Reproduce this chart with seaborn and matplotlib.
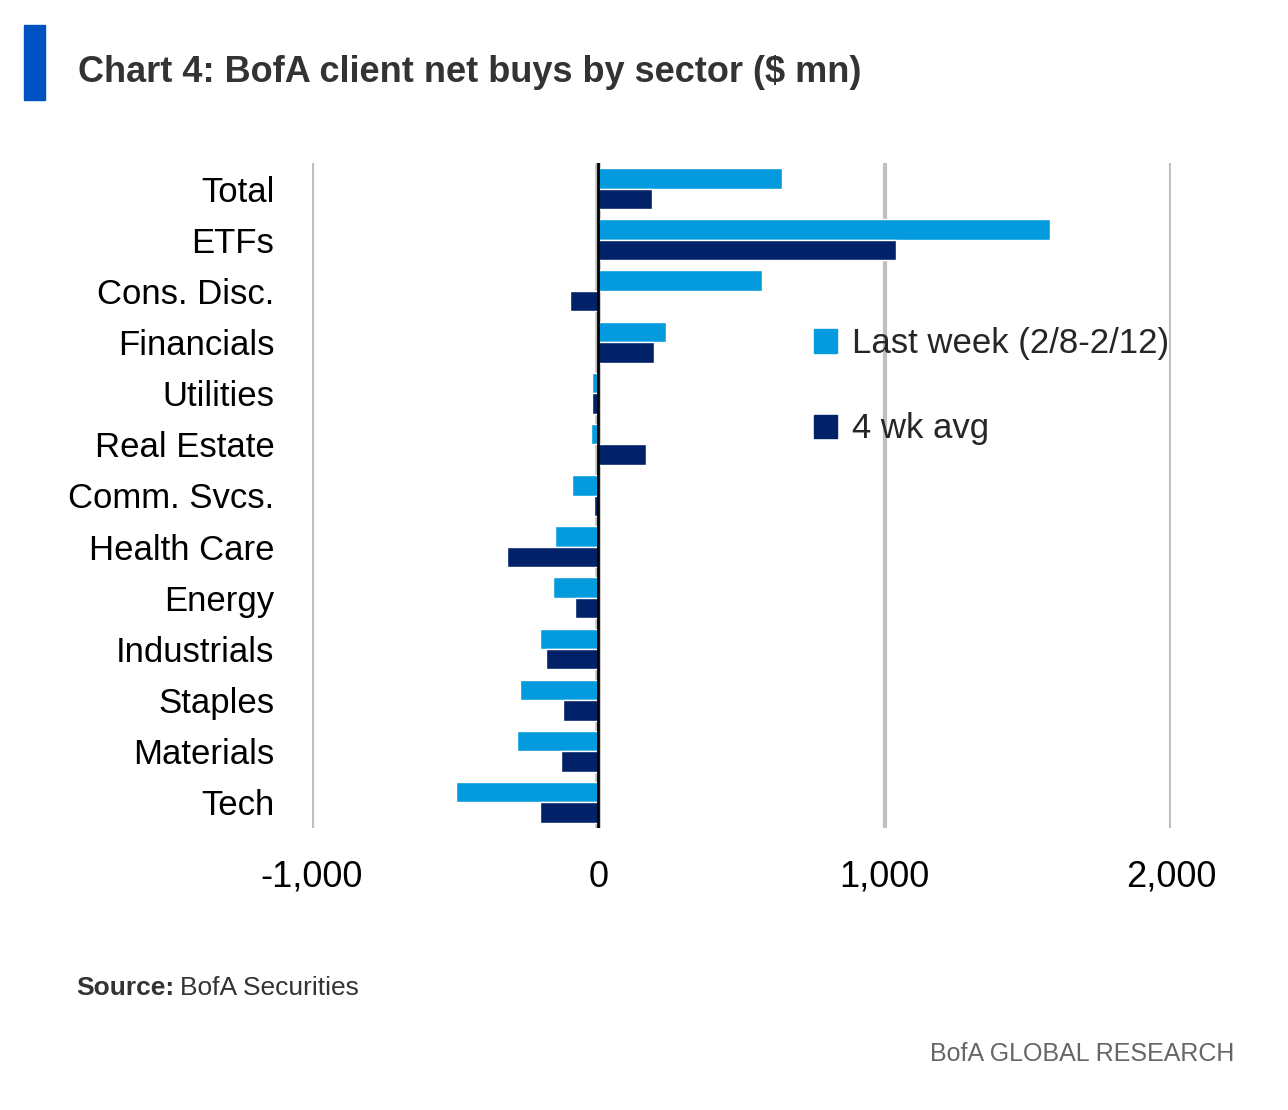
import matplotlib.pyplot as plt
import matplotlib.patches as mpatches
import pandas as pd
import seaborn as sns

# data ($ mn)
sectors = ['Total', 'ETFs', 'Cons. Disc.', 'Financials', 'Utilities', 'Real Estate',
           'Comm. Svcs.', 'Health Care', 'Energy', 'Industrials', 'Staples',
           'Materials', 'Tech']
last_week = [643, 1579, 570, 236, -23, -27, -91, -151, -159, -203, -272, -283, -498]
four_wk_avg = [186, 1038, -100, 196, -22, 165, -16, -320, -82, -182, -123, -130, -204]
series_names = ['Last week (2/8-2/12)', '4 wk avg']
colors = ['#039BDD', '#012169']
xticks = [-1000, 0, 1000, 2000]
xtick_labels = ['-1,000', '0', '1,000', '2,000']

df = pd.DataFrame({
    'Sector': sectors * 2,
    'Value': last_week + four_wk_avg,
    'Series': [series_names[0]] * len(sectors) + [series_names[1]] * len(sectors),
})

sns.set_theme(style='white')
plt.rcParams['font.family'] = ['Liberation Sans Narrow', 'Liberation Sans', 'DejaVu Sans']

fig = plt.figure(figsize=(12.88, 11.10), dpi=100)
ax = fig.add_axes([312 / 1288, 1 - 828 / 1110, (1171 - 312) / 1288, (828 - 163) / 1110])

sns.barplot(data=df, x='Value', y='Sector', hue='Series', order=sectors,
            hue_order=series_names, palette=colors, orient='h',
            width=0.8, saturation=1, ax=ax, legend=False, zorder=3)

ax.set_xlim(-1000, 2000)
ax.set_ylim(12.5, -0.5)
ax.set_xticks(xticks)
ax.set_xticklabels(xtick_labels)
for v in [-1000, 1000, 2000]:
    ax.axvline(v, color='#bfbfbf', lw=3, zorder=1)
ax.axvline(0, color='#bfbfbf', lw=4, zorder=1)
ax.axvline(0, color='black', lw=2, zorder=4)
for s in ax.spines.values():
    s.set_visible(False)
ax.set_xlabel('')
ax.set_ylabel('')
ax.tick_params(axis='y', length=0, pad=27, labelsize=25, labelcolor='black')
ax.tick_params(axis='x', length=0, pad=23, labelsize=26, labelcolor='black')

# legend
handles = [mpatches.Patch(color=c, label=n) for c, n in zip(colors, series_names)]
fig.legend(handles=handles, loc='upper left', bbox_to_anchor=(783 / 1288, 1 - 296 / 1110),
           frameon=False, fontsize=25, handlelength=0.65, handleheight=0.65,
           handletextpad=0.45, labelspacing=1.5)

# title block
fig.patches.append(mpatches.Rectangle((24 / 1288, 1 - 100 / 1110), 21 / 1288, 75 / 1110,
                                      transform=fig.transFigure, color='#0052C2'))
fig.text(78 / 1288, 1 - 72 / 1110, 'Chart 4: BofA client net buys by sector ($ mn)',
         fontsize=26, fontweight='bold', color='#333333', va='center', ha='left')
fig.text(76 / 1288, 1 - 988 / 1110, 'Source:', fontsize=19, color='#333333',
         fontweight='bold', va='center', ha='left')
fig.text(180 / 1288, 1 - 988 / 1110, 'BofA Securities', fontsize=19, color='#333333',
         va='center', ha='left')
fig.text(1234 / 1288, 1 - 1054 / 1110, 'BofA GLOBAL RESEARCH', fontsize=18, color='#666666',
         va='center', ha='right')

fig.savefig('out.png', dpi=100)
